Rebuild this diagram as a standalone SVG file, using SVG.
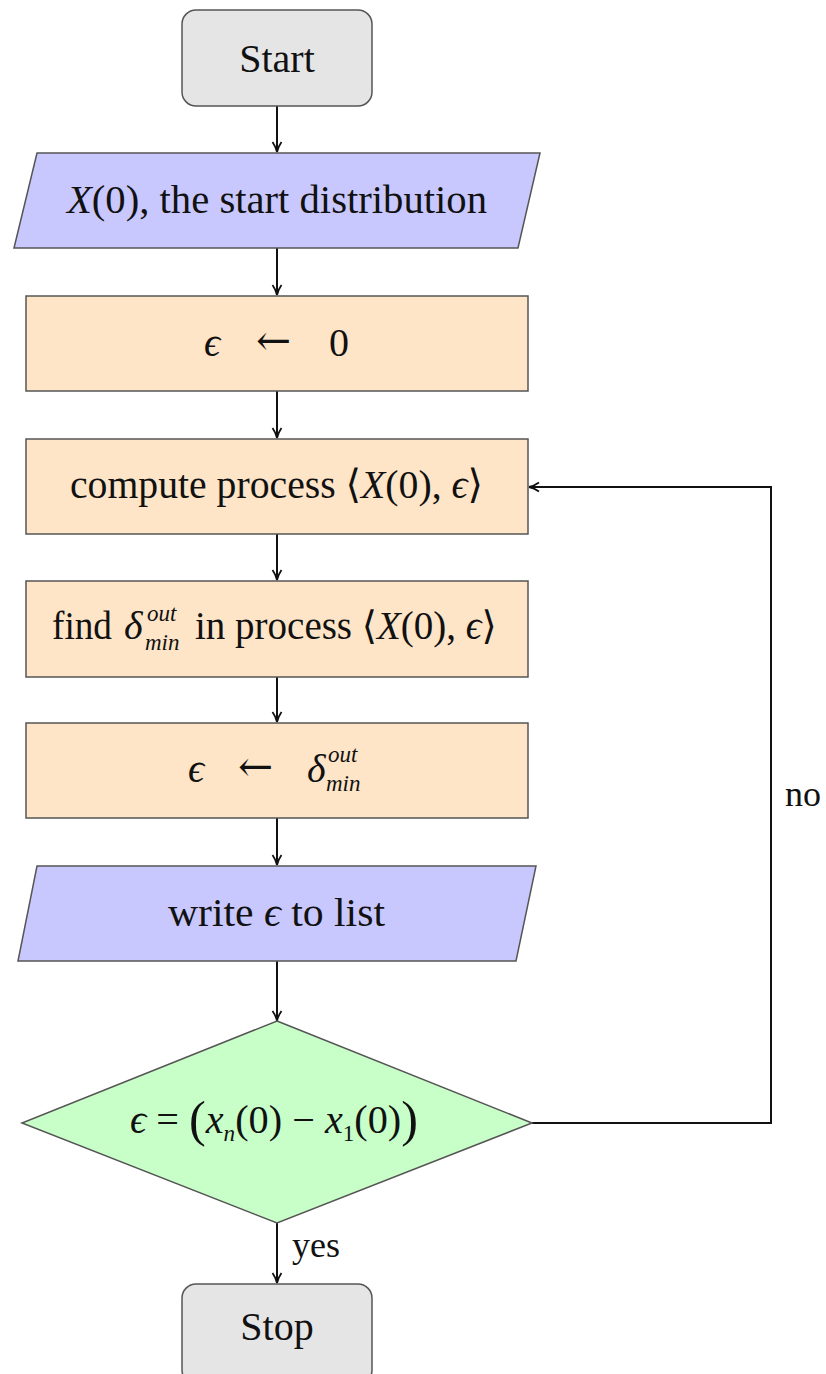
<svg xmlns="http://www.w3.org/2000/svg" width="826" height="1374" viewBox="0 0 826 1374">
<style>
text{font-family:"Liberation Serif","DejaVu Serif",serif;font-size:40px;fill:#111}
.c{text-anchor:middle}
.i{font-style:italic}
.s{font-size:23px;font-style:italic}
.ar{font-family:"DejaVu Serif",serif;font-size:42px}
.lb{font-size:36px}
.term{fill:#e5e5e5;stroke:#555;stroke-width:1.5}
.io{fill:#c8c8ff;stroke:#555;stroke-width:1.5}
.proc{fill:#fee5c8;stroke:#555;stroke-width:1.5}
.dec{fill:#c8ffc8;stroke:#555;stroke-width:1.5}
.ln{fill:none;stroke:#111;stroke-width:2;marker-end:url(#ah)}
</style>
<defs>
<marker id="ah" viewBox="0 0 12 12" refX="11" refY="6" markerWidth="12" markerHeight="12" markerUnits="userSpaceOnUse" orient="auto">
<path d="M1,1.5 Q6,5 11,6 Q6,7 1,10.5" fill="none" stroke="#111" stroke-width="1.8"/>
</marker>
</defs>
<rect width="826" height="1374" fill="#fff"/>
<g id="connectors">
<path class="ln" d="M277,106 V152"/>
<path class="ln" d="M277,248 V295"/>
<path class="ln" d="M277,391 V438"/>
<path class="ln" d="M277,534 V580"/>
<path class="ln" d="M277,677 V722"/>
<path class="ln" d="M277,818 V865"/>
<path class="ln" d="M277,961 V1021"/>
<path class="ln" d="M277,1223 V1283"/>
<path class="ln" d="M532,1123 H771 V487 H529"/>
<text class="lb" x="785" y="806">no</text>
<text class="lb" x="292" y="1257">yes</text>
</g>
<g id="start">
<rect class="term" x="182" y="10" width="190" height="96" rx="14"/>
<text class="c" x="277" y="72">Start</text>
</g>
<g id="input">
<polygon class="io" points="37,153 540,153 518,248 14,248"/>
<text x="67" y="213" textLength="420" lengthAdjust="spacingAndGlyphs"><tspan class="i">X</tspan>(0), the start distribution</text>
</g>
<g id="init">
<rect class="proc" x="26" y="296" width="502" height="95"/>
<text class="i" x="204" y="356">ϵ</text>
<text class="ar" x="256" y="355">←</text>
<text x="329" y="356">0</text>
</g>
<g id="compute">
<rect class="proc" x="26" y="439" width="502" height="95"/>
<text x="70" y="498" textLength="413" lengthAdjust="spacingAndGlyphs">compute process ⟨<tspan class="i">X</tspan>(0), <tspan class="i">ϵ</tspan>⟩</text>
</g>
<g id="find">
<rect class="proc" x="26" y="581" width="502" height="96"/>
<text x="52" y="639" textLength="60" lengthAdjust="spacingAndGlyphs">find</text>
<text class="i" x="124" y="639">δ</text>
<text class="s" x="147" y="621">out</text>
<text class="s" x="145" y="650">min</text>
<text x="195" y="639" style="font-size:39px">in process ⟨<tspan class="i">X</tspan>(0), <tspan class="i">ϵ</tspan>⟩</text>
</g>
<g id="update">
<rect class="proc" x="26" y="723" width="502" height="95"/>
<text class="i" x="188" y="782">ϵ</text>
<text class="ar" x="238" y="781">←</text>
<text class="i" x="307" y="782">δ</text>
<text class="s" x="328" y="762">out</text>
<text class="s" x="326" y="791">min</text>
</g>
<g id="write">
<polygon class="io" points="37,866 536,866 516,961 18,961"/>
<text x="168" y="926" textLength="217" lengthAdjust="spacingAndGlyphs">write <tspan class="i">ϵ</tspan> to list</text>
</g>
<g id="decision">
<polygon class="dec" points="277,1021 532,1123 277,1223 22,1123"/>
<text x="130" y="1133" textLength="288" lengthAdjust="spacingAndGlyphs"><tspan class="i">ϵ</tspan> = <tspan style="font-size:50px" dy="3">(</tspan><tspan class="i" dy="-3">x</tspan><tspan class="s" dy="8">n</tspan><tspan dy="-8">(0) − </tspan><tspan class="i">x</tspan><tspan style="font-size:23px" dy="8">1</tspan><tspan dy="-8">(0)</tspan><tspan style="font-size:50px" dy="3">)</tspan></text>
</g>
<g id="stop">
<rect class="term" x="182" y="1284" width="190" height="100" rx="14"/>
<text class="c" x="277" y="1340">Stop</text>
</g>
</svg>
